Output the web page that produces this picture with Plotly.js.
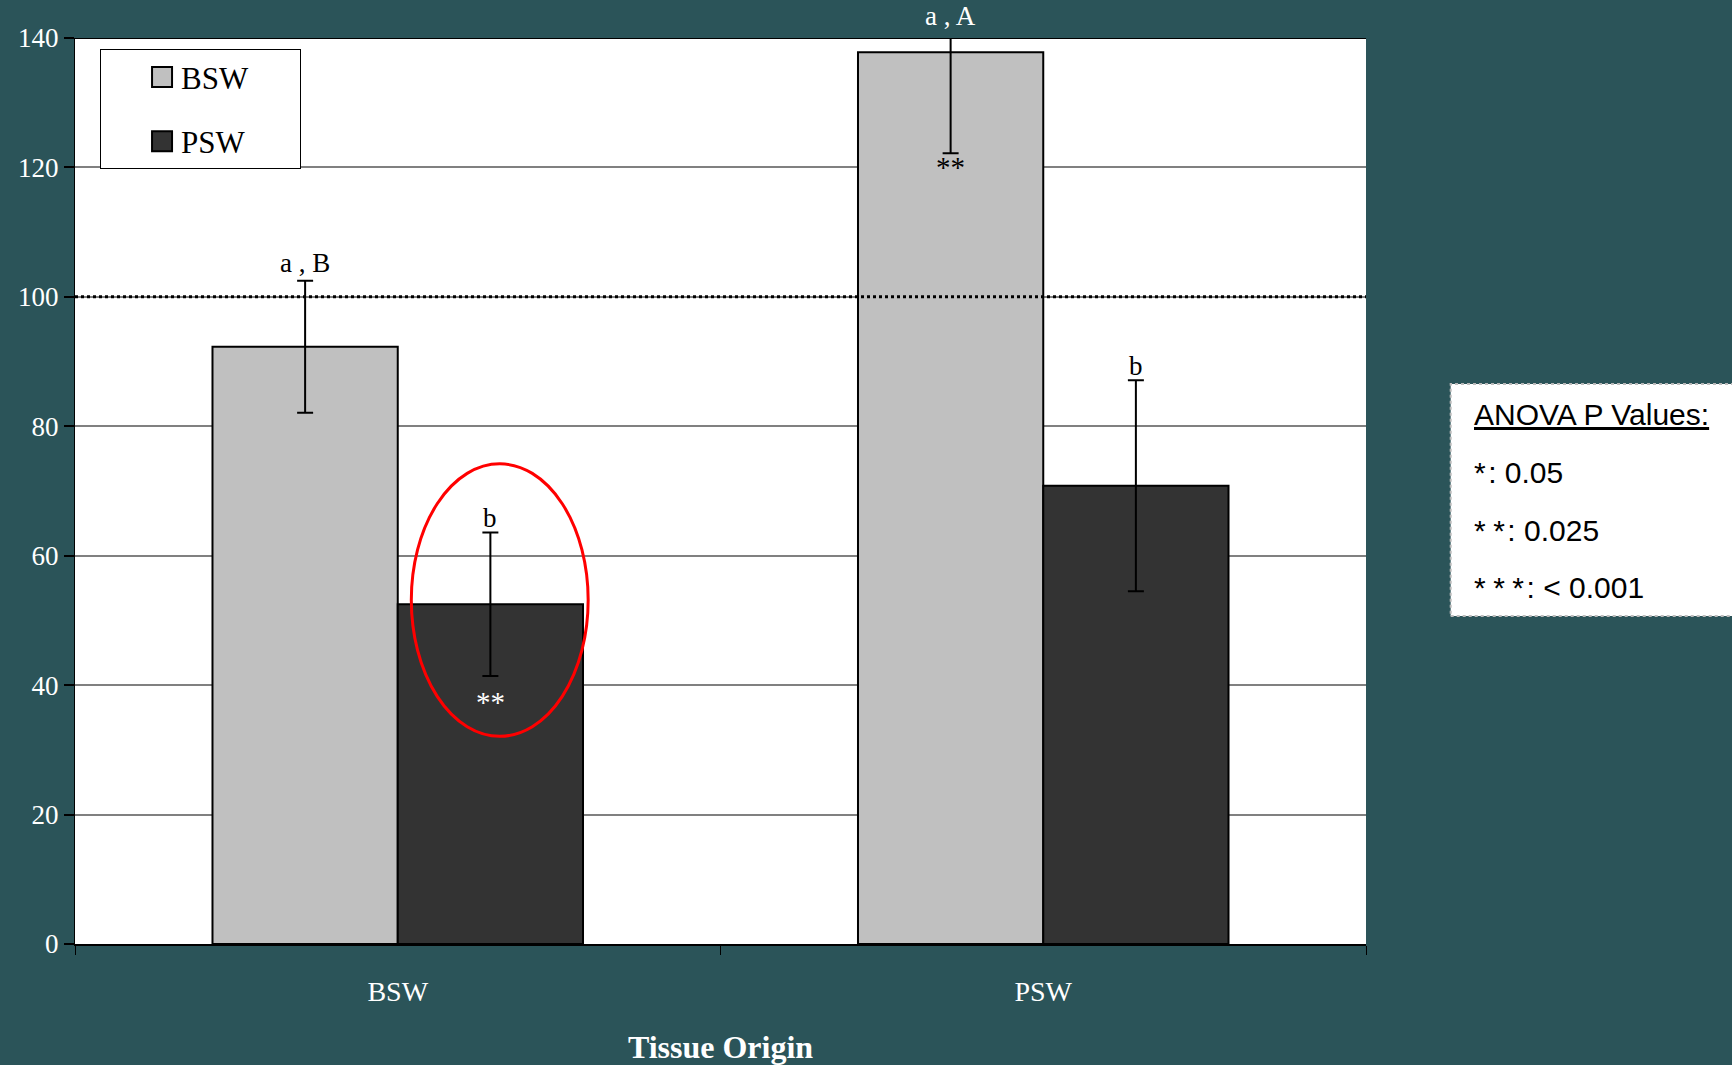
<!DOCTYPE html>
<html>
<head>
<meta charset="utf-8">
<script src="https://cdn.plot.ly/plotly-3.0.1.min.js"></script>
<style>
html,body{margin:0;padding:0;background:#2B5459;}
#chart{width:1732px;height:1065px;}
</style>
</head>
<body>
<div id="chart"></div>
<script>
// ---- data ----
const categories = ['BSW', 'PSW'];
const seriesNames = ['BSW', 'PSW'];
const bswValues = [92.3, 137.8];
const bswErrors = [10.2, 15.6];
const pswValues = [52.5, 70.8];
const pswErrors = [11.1, 16.3];
const bswLetters = ['a , B', 'a , A'];
const pswLetters = ['b', 'b'];
const bswStars = ['', '**'];
const pswStars = ['**', ''];
const yTickValues = [0, 20, 40, 60, 80, 100, 120, 140];
const referenceLevel = 100;
const anovaLines = ['<u>ANOVA P Values:</u>', '*: 0.05', '**: 0.025', '***: < 0.001'];

// ---- layout helpers ----
const bg = '#2B5459';
const serif = 'Liberation Serif, Times New Roman, serif';
const sans = 'Liberation Sans, Arial, sans-serif';
const yMax = 140;
const bargap = 0.426;
const half = (1 - bargap) / 4; // offset of each bar centre from category centre
const pad = '\u00a0\u00a0\u00a0\u00a0\u00a0\u00a0';
const spacedStars = s => s.replace(/^(\*+)/, m => m.split('').join('\u2005') + '\u200a');

const traceBSW = {
  type: 'bar', name: seriesNames[0] + pad, x: categories, y: bswValues,
  marker: {color: '#C0C0C0', line: {color: '#000000', width: 2}},
  error_y: {type: 'data', array: bswErrors, visible: true, color: '#000000', thickness: 2, width: 8},
  legendgroup: 'g1', hoverinfo: 'skip'
};
const tracePSW = {
  type: 'bar', name: seriesNames[1] + pad, x: categories, y: pswValues,
  marker: {color: '#333333', line: {color: '#000000', width: 2}},
  error_y: {type: 'data', array: pswErrors, visible: true, color: '#000000', thickness: 2, width: 8},
  legendgroup: 'g2', hoverinfo: 'skip'
};

const annotations = [];
categories.forEach((c, i) => {
  const topB = bswValues[i] + bswErrors[i];
  annotations.push({
    x: i - half, y: Math.min(topB, yMax), xref: 'x', yref: 'y',
    text: bswLetters[i], showarrow: false, yanchor: 'bottom', yshift: topB > yMax ? 5 : 1,
    font: {family: serif, size: 27, color: topB > yMax ? '#FFFFFF' : '#000000'}
  });
  annotations.push({
    x: i + half, y: Math.min(pswValues[i] + pswErrors[i], yMax), xref: 'x', yref: 'y',
    text: pswLetters[i], showarrow: false, yanchor: 'bottom', yshift: -3,
    font: {family: serif, size: 27, color: '#000000'}
  });
  if (bswStars[i]) annotations.push({
    x: i - half, y: bswValues[i] - bswErrors[i], xref: 'x', yref: 'y',
    text: bswStars[i], showarrow: false, yanchor: 'top', yshift: 4,
    font: {family: serif, size: 29, color: '#000000'}
  });
  if (pswStars[i]) annotations.push({
    x: i + half, y: pswValues[i] - pswErrors[i], xref: 'x', yref: 'y',
    text: pswStars[i], showarrow: false, yanchor: 'top', yshift: -8,
    font: {family: serif, size: 29, color: '#FFFFFF'}
  });
});
const anovaY = [0.584, 0.520, 0.456, 0.393];
anovaLines.forEach((t, k) => annotations.push({
  x: 1.082, y: anovaY[k], xref: 'paper', yref: 'paper', text: k === 0 ? t : spacedStars(t), showarrow: false,
  xanchor: 'left', yanchor: 'middle', font: {family: sans, size: 30, color: '#000000'}
}));

const shapes = [
  {type: 'line', xref: 'paper', x0: 0, x1: 1, yref: 'y', y0: referenceLevel, y1: referenceLevel,
   line: {color: '#000000', width: 3, dash: 'dot'}},
  {type: 'line', xref: 'paper', x0: 0, x1: 1, yref: 'y', y0: yMax, y1: yMax,
   line: {color: '#000000', width: 2}},
  {type: 'circle', xref: 'x', yref: 'y', x0: 0.021, x1: 0.295, y0: 32.1, y1: 74.2,
   line: {color: '#FF0000', width: 3}},
  {type: 'rect', xref: 'paper', yref: 'paper', x0: 1.0656, x1: 1.29, y0: 0.362, y1: 0.618,
   fillcolor: '#FFFFFF', line: {color: '#BBBBBB', width: 2, dash: 'dot'}, layer: 'below'}
];

const layout = {
  width: 1732, height: 1065,
  paper_bgcolor: bg, plot_bgcolor: '#FFFFFF',
  margin: {l: 75, r: 366, t: 38, b: 121},
  barmode: 'group', bargap: bargap, bargroupgap: 0,
  showlegend: true,
  legend: {
    x: 0.0194, y: 0.9875, xanchor: 'left', yanchor: 'top',
    bgcolor: '#FFFFFF', bordercolor: '#000000', borderwidth: 1,
    font: {family: serif, size: 31, color: '#000000'},
    traceorder: 'grouped', tracegroupgap: 21, itemwidth: 70
  },
  xaxis: {
    type: 'category', range: [-0.5, 1.5],
    showline: true, linecolor: '#000000', linewidth: 2,
    ticks: 'outside', tickson: 'boundaries', ticklen: 9, tickcolor: '#000000', tickwidth: 1,
    showgrid: false, ticklabelstandoff: 21,
    tickfont: {family: serif, size: 28, color: '#FFFFFF'},
    title: {text: '<b>Tissue Origin</b>', font: {family: serif, size: 32, color: '#FFFFFF'}, standoff: 32}
  },
  yaxis: {
    range: [0, yMax], tickvals: yTickValues, ticktext: yTickValues.map(String),
    showline: true, linecolor: '#000000', linewidth: 1,
    ticks: 'outside', ticklen: 10, tickcolor: '#000000', tickwidth: 2,
    showgrid: true, gridcolor: '#808080', gridwidth: 1.5, zeroline: false,
    tickfont: {family: serif, size: 27, color: '#FFFFFF'}
  },
  annotations: annotations,
  shapes: shapes
};

Plotly.newPlot('chart', [traceBSW, tracePSW], layout, {displayModeBar: false, responsive: false}).then(gd => {
  // enlarge the legend swatches to match the reference's square keys
  gd.querySelectorAll('.legend .legendpoints path').forEach(p => {
    p.setAttribute('d', 'M31,10H11V-10H31Z');
  });
});
</script>
</body>
</html>
